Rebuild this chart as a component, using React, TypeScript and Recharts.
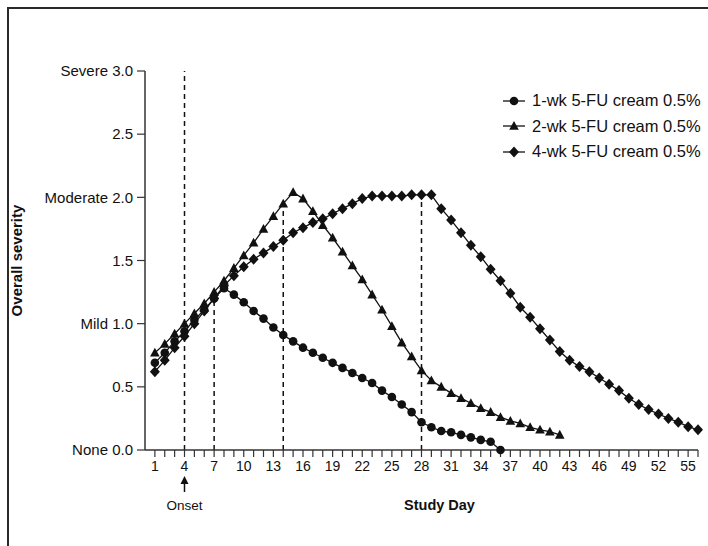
import React from "react";
import { LineChart, Line, XAxis, YAxis, ReferenceLine } from "recharts";

// values, day 1 onwards
const oneWeekValues = [
  0.69, 0.77, 0.86, 0.94, 1.03, 1.11, 1.2, 1.28, 1.23, 1.17, 1.1, 1.04, 0.97, 0.91, 0.86, 0.81, 0.77, 0.73,
  0.69, 0.65, 0.61, 0.57, 0.53, 0.47, 0.42, 0.36, 0.3, 0.22, 0.18, 0.15, 0.14, 0.12, 0.1, 0.08, 0.065, 0.0,
];
const twoWeekValues = [
  0.77, 0.84, 0.92, 1.0, 1.08, 1.16, 1.25, 1.34, 1.44, 1.54, 1.64, 1.75, 1.85, 1.95, 2.04, 1.99, 1.89, 1.78,
  1.68, 1.57, 1.46, 1.35, 1.23, 1.11, 0.98, 0.85, 0.74, 0.63, 0.55, 0.5, 0.45, 0.41, 0.37, 0.33, 0.3, 0.26,
  0.23, 0.21, 0.18, 0.16, 0.145, 0.12,
];
const fourWeekValues = [
  0.62, 0.71, 0.81, 0.9, 1.0, 1.1, 1.2, 1.3, 1.38, 1.45, 1.51, 1.56, 1.61, 1.66, 1.72, 1.76, 1.8, 1.83,
  1.87, 1.91, 1.95, 1.99, 2.01, 2.01, 2.01, 2.01, 2.02, 2.02, 2.02, 1.91, 1.82, 1.72, 1.62, 1.53, 1.43, 1.34,
  1.24, 1.13, 1.05, 0.96, 0.87, 0.78, 0.71, 0.66, 0.62, 0.57, 0.52, 0.47, 0.41, 0.36, 0.32, 0.285, 0.25, 0.22,
  0.185, 0.16,
];

const seriesNames = ["1-wk 5-FU cream 0.5%", "2-wk 5-FU cream 0.5%", "4-wk 5-FU cream 0.5%"];

const dayTicks = Array.from({ length: 56 }, (_, i) => i + 1);
const labeledDays = [1, 4, 7, 10, 13, 16, 19, 22, 25, 28, 31, 34, 37, 40, 43, 46, 49, 52, 55];
const onsetDay = 4;

const yTicks = [0, 0.5, 1, 1.5, 2, 2.5, 3];
const yTickLabels = ["None 0.0", "0.5", "Mild 1.0", "1.5", "Moderate 2.0", "2.5", "Severe 3.0"];

// dashed markers: day and how high the dashed line reaches
const refDays = [4, 7, 14, 28];
const refTops = [3.0, 1.28, 1.95, 2.02];

const toRows = (vals: number[]) => vals.map((v, i) => ({ day: i + 1, value: v }));
const oneWeekData = toRows(oneWeekValues);
const twoWeekData = toRows(twoWeekValues);
const fourWeekData = toRows(fourWeekValues);

const FONT = "'Liberation Sans', Arial, Helvetica, sans-serif";
const INK = "#111";

const CircleMark = ({ cx, cy }: { cx: number; cy: number }) => <circle cx={cx} cy={cy} r={4.3} fill={INK} />;
const TriangleMark = ({ cx, cy }: { cx: number; cy: number }) => (
  <polygon points={`${cx},${cy - 5} ${cx + 4.8},${cy + 3.8} ${cx - 4.8},${cy + 3.8}`} fill={INK} />
);
const DiamondMark = ({ cx, cy }: { cx: number; cy: number }) => (
  <polygon points={`${cx},${cy - 5.5} ${cx + 5},${cy} ${cx},${cy + 5.5} ${cx - 5},${cy}`} fill={INK} />
);

const markers = [CircleMark, TriangleMark, DiamondMark];

const makeDot = (Mark: any, prefix: string) => (props: any) => {
  if (props.cx == null || props.cy == null) return <g key={`${prefix}-${props.index}`} />;
  return (
    <g key={`${prefix}-${props.index}`}>
      <Mark cx={props.cx} cy={props.cy} />
    </g>
  );
};

const DayTick = (props: any) => {
  const { x, y, payload } = props;
  const v = payload.value;
  if (!labeledDays.includes(v)) return <g />;
  return (
    <g>
      <text x={x} y={y} dy="0.71em" textAnchor="middle" fontSize={14} fontFamily={FONT} fill={INK}>
        {v}
      </text>
      {v === onsetDay && (
        <g>
          <line x1={x} y1={y + 31} x2={x} y2={y + 20} stroke={INK} strokeWidth={1.5} />
          <polygon points={`${x},${y + 15} ${x + 4},${y + 23} ${x - 4},${y + 23}`} fill={INK} />
          <text x={x} y={y + 39} dy="0.71em" textAnchor="middle" fontSize={13.5} fontFamily={FONT} fill={INK}>
            Onset
          </text>
        </g>
      )}
    </g>
  );
};

const LegendBox = () => (
  <div style={{ fontFamily: FONT, fontSize: 16.5, color: INK }}>
    {seriesNames.map((name, i) => {
      const Mark = markers[i];
      return (
        <div key={name} style={{ display: "flex", alignItems: "center", height: 25.5 }}>
          <svg width={24} height={14} style={{ marginRight: 6 }}>
            <line x1={1} y1={7} x2={23} y2={7} stroke={INK} strokeWidth={1.3} />
            <Mark cx={12} cy={7} />
          </svg>
          <span>{name}</span>
        </div>
      );
    })}
  </div>
);

export default function App() {
  return (
    <div style={{ position: "absolute", left: 0, top: 0, width: 708, height: 546, overflow: "hidden", background: "#fff" }}>
      <div
        style={{
          position: "absolute",
          left: 7,
          top: 7,
          width: 701,
          height: 539,
          borderTop: "2px solid #2a2a2a",
          borderLeft: "2px solid #2a2a2a",
          boxSizing: "border-box",
        }}
      />
      <div style={{ position: "absolute", left: 0, top: 0 }}>
        <LineChart width={708} height={546} margin={{ top: 71, right: 10, bottom: 66, left: 0 }}>
          <XAxis
            dataKey="day"
            type="number"
            domain={[0, 56]}
            ticks={dayTicks}
            interval={0}
            height={30}
            tickSize={7}
            tickMargin={4}
            tick={<DayTick />}
            axisLine={{ stroke: "#333", strokeWidth: 1.5 }}
            tickLine={{ stroke: "#333", strokeWidth: 1.2 }}
            allowDuplicatedCategory={false}
            label={{
              value: "Study Day",
              position: "bottom",
              offset: 20,
              dx: 18,
              style: { fontFamily: FONT, fontSize: 14.5, fontWeight: "bold", fill: INK },
            }}
          />
          <YAxis
            type="number"
            domain={[0, 3]}
            ticks={yTicks}
            width={145}
            tickSize={8}
            tickMargin={4}
            tickFormatter={(v: number) => yTickLabels[yTicks.indexOf(v)]}
            tick={{ fontFamily: FONT, fontSize: 15, fill: INK }}
            axisLine={{ stroke: "#333", strokeWidth: 1.5 }}
            tickLine={{ stroke: "#333", strokeWidth: 1.2 }}
            label={{
              value: "Overall severity",
              angle: -90,
              position: "insideLeft",
              offset: 17,
              style: { textAnchor: "middle", fontFamily: FONT, fontSize: 15, fontWeight: "bold", fill: INK },
            }}
          />
          {refDays.map((d, i) => (
            <ReferenceLine
              key={`ref-${d}`}
              segment={[
                { x: d, y: 0 },
                { x: d, y: refTops[i] },
              ]}
              stroke={INK}
              strokeWidth={1.5}
              strokeDasharray="5 4"
              ifOverflow="visible"
            />
          ))}
          <Line
            data={oneWeekData}
            dataKey="value"
            name={seriesNames[0]}
            stroke={INK}
            strokeWidth={1.3}
            dot={makeDot(CircleMark, "c")}
            activeDot={false}
            isAnimationActive={false}
          />
          <Line
            data={twoWeekData}
            dataKey="value"
            name={seriesNames[1]}
            stroke={INK}
            strokeWidth={1.3}
            dot={makeDot(TriangleMark, "t")}
            activeDot={false}
            isAnimationActive={false}
          />
          <Line
            data={fourWeekData}
            dataKey="value"
            name={seriesNames[2]}
            stroke={INK}
            strokeWidth={1.3}
            dot={makeDot(DiamondMark, "d")}
            activeDot={false}
            isAnimationActive={false}
          />
        </LineChart>
      </div>
      <div style={{ position: "absolute", left: 502, top: 88 }}>
        <LegendBox />
      </div>
    </div>
  );
}
